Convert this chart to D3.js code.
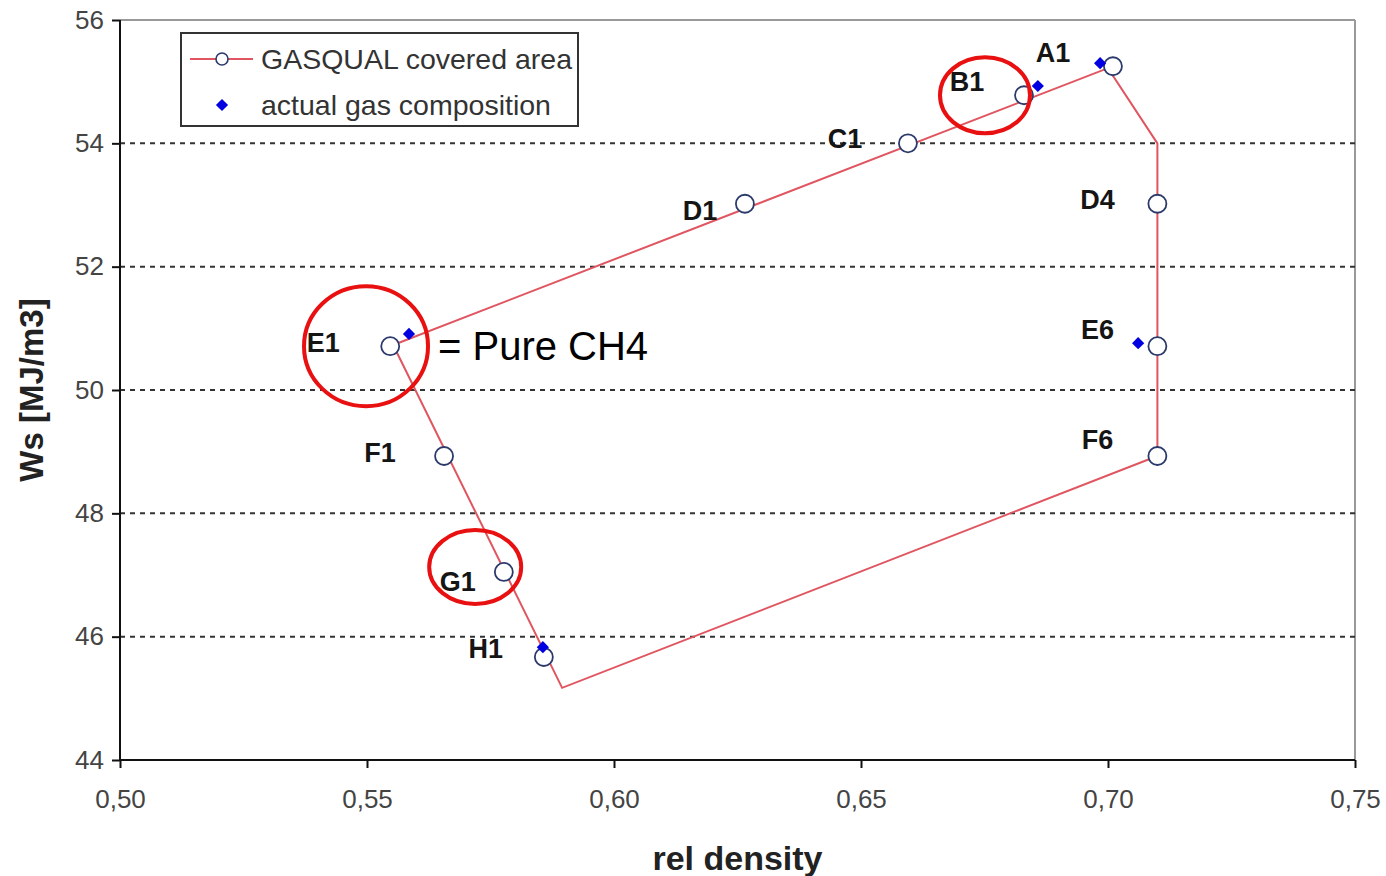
<!DOCTYPE html>
<html>
<head>
<meta charset="utf-8">
<script src="https://cdn.jsdelivr.net/npm/d3@7"></script>
<style>
  body { margin: 0; background: #fff; }
  text { font-family: "Liberation Sans", Arial, sans-serif; }
</style>
</head>
<body>
<script>
// GASQUAL test gases (circles)
const gasqualNames = ["A1", "B1", "C1", "D1", "E1", "F1", "G1", "H1", "D4", "E6", "F6"];
const gasqualDensity = [0.701, 0.683, 0.6595, 0.6265, 0.5547, 0.5656, 0.5777, 0.5858, 0.710, 0.710, 0.710];
const gasqualWs = [55.25, 54.78, 54.0, 53.02, 50.71, 48.93, 47.05, 45.67, 53.02, 50.71, 48.93];

// covered area outline (red line)
const areaDensity = [0.5553, 0.700, 0.710, 0.710, 0.5895, 0.5553];
const areaWs = [50.73, 55.22, 54.0, 48.93, 45.17, 50.73];

// actual gas composition (blue diamonds)
const actualDensity = [0.6984, 0.6858, 0.5585, 0.5856, 0.7061];
const actualWs = [55.30, 54.93, 50.91, 45.83, 50.76];

// highlighted gases (red ellipses)
const highlightDensity = [0.6751, 0.5498, 0.5719];
const highlightWs = [54.78, 50.71, 47.13];

const xTicks = [0.50, 0.55, 0.60, 0.65, 0.70, 0.75];
const yTicks = [44, 46, 48, 50, 52, 54, 56];

const width = 1386, height = 876;
const margin = { top: 20, right: 31, bottom: 116, left: 120 };

// label nudges in px, relative to each point
const labelNudge = {
  A1: [-60, -13], B1: [-57, -13], C1: [-63, -4], D1: [-45, 7], E1: [-67, -3],
  F1: [-64, -3], G1: [-46, 10], H1: [-58, -8], D4: [-60, -4], E6: [-60, -16], F6: [-60, -16]
};
const highlightR = [[45, 38], [62, 60], [46, 37]];

const svg = d3.select('body').append('svg')
  .attr('width', width)
  .attr('height', height);

const x = d3.scaleLinear().domain([0.50, 0.75]).range([margin.left, width - margin.right]);
const y = d3.scaleLinear().domain([44, 56]).range([height - margin.bottom, margin.top]);

const fmt = d => d3.format('.2f')(d).replace('.', ',');

// frame top/right
svg.append('line')
  .attr('x1', x(0.50)).attr('x2', x(0.75)).attr('y1', y(56)).attr('y2', y(56))
  .attr('stroke', '#999').attr('stroke-width', 2);
svg.append('line')
  .attr('x1', x(0.75)).attr('x2', x(0.75)).attr('y1', y(56)).attr('y2', y(44))
  .attr('stroke', '#999').attr('stroke-width', 2);

// gridlines
svg.append('g')
  .selectAll('line')
  .data(yTicks.filter(d => d > 44 && d < 56))
  .enter().append('line')
  .attr('x1', x(0.50)).attr('x2', x(0.75))
  .attr('y1', d => y(d)).attr('y2', d => y(d))
  .attr('stroke', '#333').attr('stroke-width', 2)
  .attr('stroke-dasharray', '5,5');

// axes
const xAxis = svg.append('g')
  .attr('transform', `translate(0,${y(44)})`)
  .call(d3.axisBottom(x).tickValues(xTicks).tickFormat(fmt).tickSize(8).tickPadding(22));
const yAxis = svg.append('g')
  .attr('transform', `translate(${x(0.50)},0)`)
  .call(d3.axisLeft(y).tickValues(yTicks).tickSize(8).tickPadding(8));

[xAxis, yAxis].forEach(a => {
  a.select('.domain').attr('stroke', '#111').attr('stroke-width', 2);
  a.selectAll('.tick line').attr('stroke', '#111').attr('stroke-width', 2);
  a.selectAll('.tick text').attr('font-size', 26).attr('fill', '#444')
    .attr('font-family', '"Liberation Sans", Arial, sans-serif');
});
yAxis.select('.domain').attr('d', `M0,${y(56)}V${y(44)}`);
xAxis.select('.domain').attr('d', `M${x(0.50)},0H${x(0.75)}`);

// axis titles
svg.append('text')
  .attr('x', (x(0.50) + x(0.75)) / 2).attr('y', 870)
  .attr('text-anchor', 'middle')
  .attr('font-size', 34).attr('font-weight', 'bold').attr('fill', '#222')
  .text('rel density');
svg.append('text')
  .attr('transform', `translate(43,${y(50)}) rotate(-90)`)
  .attr('text-anchor', 'middle')
  .attr('font-size', 33).attr('font-weight', 'bold').attr('fill', '#222')
  .text('Ws [MJ/m3]');

// covered area line
const line = d3.line().x(d => x(d[0])).y(d => y(d[1]));
svg.append('path')
  .attr('d', line(areaDensity.map((d, i) => [d, areaWs[i]])))
  .attr('fill', 'none').attr('stroke', '#e05560').attr('stroke-width', 2);

// circles
const gasqual = gasqualNames.map((n, i) => ({ name: n, d: gasqualDensity[i], w: gasqualWs[i] }));
svg.append('g').selectAll('circle')
  .data(gasqual).enter().append('circle')
  .attr('cx', d => x(d.d)).attr('cy', d => y(d.w)).attr('r', 9)
  .attr('fill', '#fff').attr('stroke', '#2b3a6b').attr('stroke-width', 1.8);

// diamonds
const diamond = d3.symbol().type(d3.symbolDiamond2).size(95);
svg.append('g').selectAll('path')
  .data(actualDensity.map((d, i) => [d, actualWs[i]])).enter().append('path')
  .attr('d', diamond)
  .attr('transform', d => `translate(${x(d[0])},${y(d[1])})`)
  .attr('fill', '#0000e0');

// labels
svg.append('g').selectAll('text')
  .data(gasqual).enter().append('text')
  .attr('x', d => x(d.d) + labelNudge[d.name][0])
  .attr('y', d => y(d.w) + labelNudge[d.name][1])
  .attr('text-anchor', 'middle').attr('dominant-baseline', 'central')
  .attr('font-size', 27).attr('font-weight', 'bold').attr('fill', '#151515')
  .text(d => d.name);

// highlight ellipses
svg.append('g').selectAll('ellipse')
  .data(highlightDensity.map((d, i) => [d, highlightWs[i], highlightR[i]])).enter().append('ellipse')
  .attr('cx', d => x(d[0])).attr('cy', d => y(d[1]))
  .attr('rx', d => d[2][0]).attr('ry', d => d[2][1])
  .attr('fill', 'none').attr('stroke', '#e81010').attr('stroke-width', 4);

// annotation
svg.append('text')
  .attr('x', 438).attr('y', y(50.71))
  .attr('dominant-baseline', 'central')
  .attr('font-family', '"Open Sans", "Noto Sans", sans-serif')
  .attr('font-size', 40).attr('fill', '#000')
  .text('= Pure CH4');

// legend
const lg = svg.append('g').attr('transform', 'translate(181,33)');
lg.append('rect').attr('width', 397).attr('height', 93)
  .attr('fill', '#fff').attr('stroke', '#333').attr('stroke-width', 2);
lg.append('line').attr('x1', 9).attr('x2', 72).attr('y1', 26).attr('y2', 26)
  .attr('stroke', '#e05560').attr('stroke-width', 2);
lg.append('circle').attr('cx', 41).attr('cy', 26).attr('r', 6)
  .attr('fill', '#fff').attr('stroke', '#2b3a6b').attr('stroke-width', 1.6);
lg.append('path').attr('d', diamond).attr('transform', 'translate(41,72)').attr('fill', '#0000e0');
lg.append('text').attr('x', 80).attr('y', 26).attr('dominant-baseline', 'central')
  .attr('font-size', 28.5).attr('fill', '#333').text('GASQUAL covered area');
lg.append('text').attr('x', 80).attr('y', 72).attr('dominant-baseline', 'central')
  .attr('font-size', 28.5).attr('fill', '#333').text('actual gas composition');
</script>
</body>
</html>
